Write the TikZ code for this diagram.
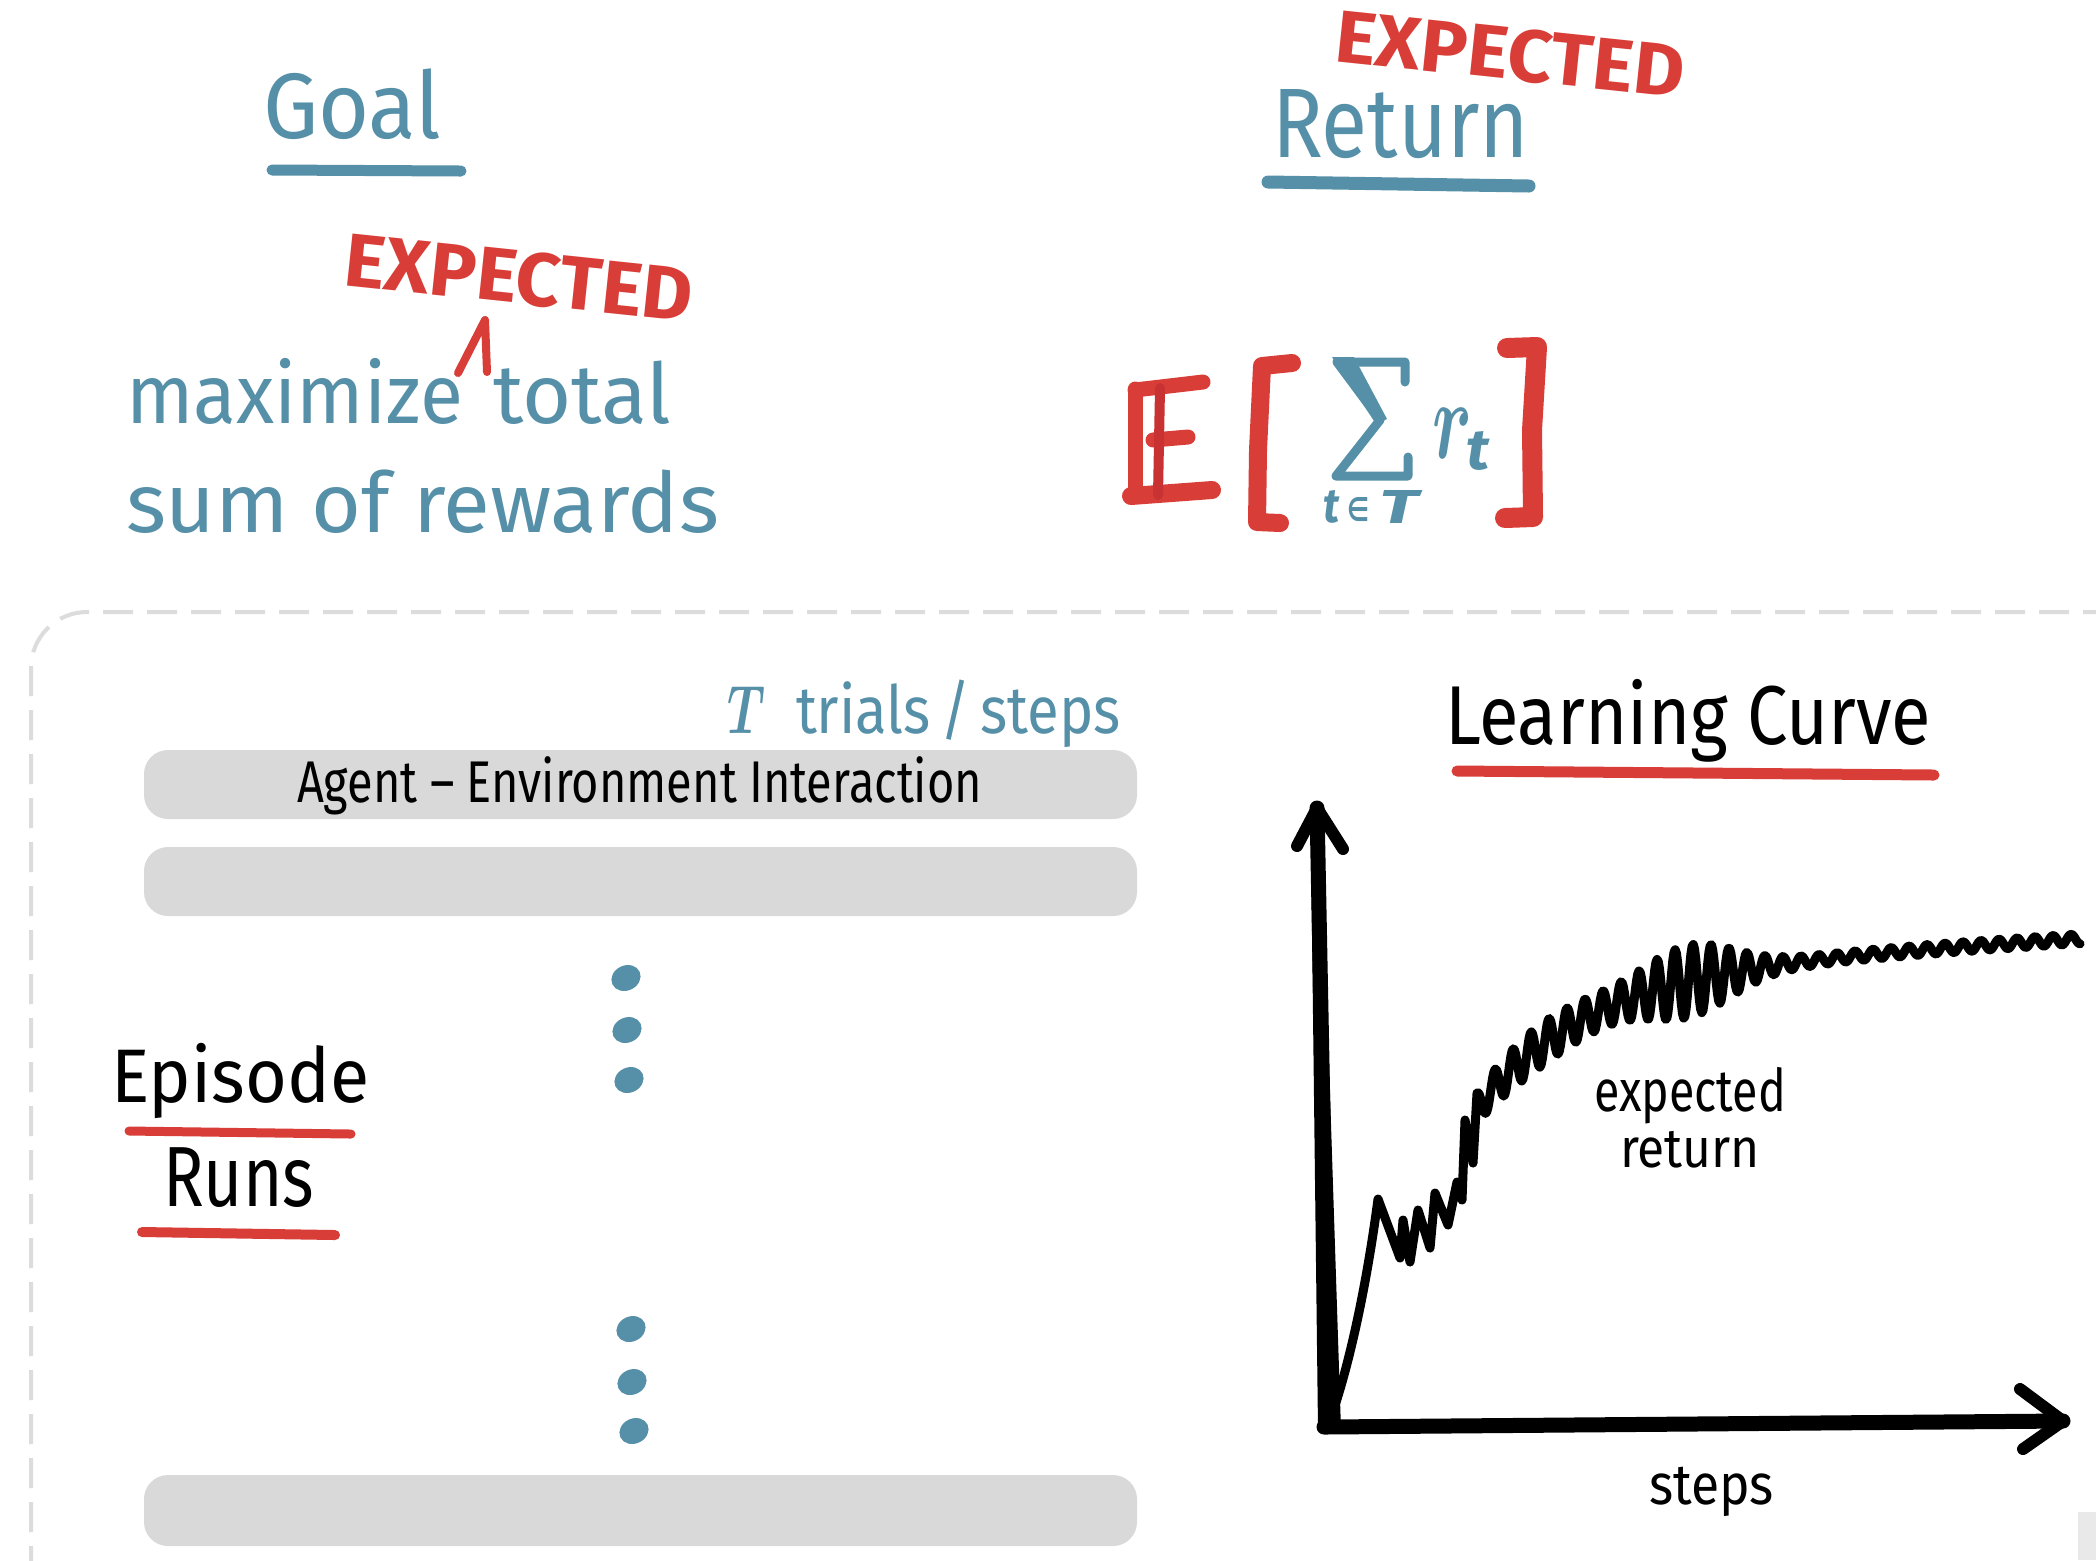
\documentclass[tikz,border=0pt]{standalone}
\usepackage{fontspec}
\setmainfont{Fira Sans}
\newfontfamily\djv{DejaVu Sans}
\usepackage{graphicx}
\usetikzlibrary{shapes.geometric}
\newlength\pxu \setlength\pxu{0.5pt}
\newcommand\fitx[3]{\resizebox{#1\pxu}{#2\pxu}{\smash{#3}\vphantom{x}}}
\newcommand\fitc[3]{\resizebox{#1\pxu}{#2\pxu}{\smash{#3}\vphantom{E}}}
\newcommand\fitb[3]{\resizebox{#1\pxu}{#2\pxu}{#3}}
\definecolor{sblue}{HTML}{5590A8}
\definecolor{sred}{HTML}{D93D37}
\definecolor{sredd}{HTML}{C93232}
\definecolor{barg}{HTML}{D9D9D9}
\definecolor{dashg}{HTML}{DCDCDC}
\definecolor{cornerg}{HTML}{E9E9E9}
\begin{document}
\begin{tikzpicture}[x=0.5pt,y=-0.5pt,
  txt/.style={inner sep=0pt, outer sep=0pt, anchor=base west},
  bar/.style={draw=none, fill=barg, rounded corners=12pt, minimum width=496.5pt, minimum height=34.5pt, inner sep=0pt},
  dot/.style={ellipse, fill=sblue, draw=none, minimum width=15pt, minimum height=12.5pt, inner sep=0pt, rotate=25},
  uline/.style={line cap=round, line width=5pt},
  redstroke/.style={draw=sred, line cap=round, line join=round, line width=7.5pt},
  bluestroke/.style={draw=sblue, line cap=round, line join=round, line width=4.5pt},
  axisline/.style={line cap=round, line join=round, line width=7.5pt},
  curveline/.style={line cap=round, line join=round, line width=4.5pt},
  frame/.style={draw=dashg, line width=2pt, dash pattern=on 15pt off 7pt, rounded corners=28pt},
  declare function={
    trend(\t)=955-0.06*(\t-1800)+130*exp(-(\t-1480)/110);
    bump(\t,\c,\w)=exp(-min(((\t-\c)/\w)*((\t-\c)/\w),9));
    amp(\t)=5+16*bump(\t,1540,90)+30*bump(\t,1690,60);
    curv(\t)=trend(\t)-amp(\t)*sin(20*(\t-1477)+90);
  }]
\useasboundingbox (0,0) rectangle (2096,1560);
\fill[white] (0,0) rectangle (2096,1560);

% ---------- top left ----------
\node[txt, text=sblue] (goal) at (263,138) {\fitx{178}{49}{Goal}};
\draw[uline, sblue, line width=5.5pt] (272,170) -- (461,171);
\node[txt, text=sred, rotate=-6] (exp1) at (342,285) {\fitc{350}{52}{\bfseries EXPECTED}};
\draw[sred, line width=4pt, line cap=round, line join=round] (458,373) -- (485,320) -- (487,372);
\node[txt, text=sblue] (maxi) at (126,423) {\fitx{337}{44}{maximize}};
\node[txt, text=sblue] (total) at (493,423) {\fitx{178}{44}{total}};
\node[txt, text=sblue] (sum) at (126,532) {\fitx{593}{44}{sum of rewards}};

% ---------- top right ----------
\node[txt, text=sred, rotate=-6] (exp2) at (1333,61) {\fitc{351}{51}{\bfseries EXPECTED}};
\node[txt, text=sblue] (ret) at (1272,157) {\fitx{257}{52}{Return}};
\draw[uline, sblue, line width=6.5pt] (1268,182) -- (1529,186);

% blackboard E
\draw[redstroke] (1135,389) -- (1135,496);
\draw[redstroke] (1135,390) -- (1203,382);
\draw[redstroke] (1153,440) -- (1188,437);
\draw[redstroke, line width=9pt] (1131,496) -- (1212,490);
\draw[redstroke, draw=sredd, line width=5pt] (1160,388) -- (1158,495);
% brackets
\draw[redstroke, line width=9pt] (1292,363) -- (1262,366) -- (1258,450) -- (1257,522) -- (1280,523);
\draw[redstroke, line width=10pt] (1507,348) -- (1537,347) -- (1532,430) -- (1533,517) -- (1505,518);
% sigma
\fill[sblue] (1332,357) -- (1354,357) -- (1387,419) -- (1376,424) -- cycle;
\draw[bluestroke] (1405,382) -- (1405,362) -- (1337,362) -- (1380,420) -- (1336,476) -- (1408,476) -- (1408,457);
\node[txt, text=sblue] (rr) at (1432,458) {\fitb{40}{50}{\boldmath$r$}};
\node[txt, text=sblue] (rt) at (1466,469) {\fitb{23}{38}{\bfseries\itshape t}};
\node[txt, text=sblue] (tt) at (1323,522) {\fitb{16}{32}{\bfseries\itshape t}};
\node[txt, text=sblue] (elem) at (1347,521) {\fitb{22}{24}{\djv\bfseries ∈}};
\node[txt, text=sblue] (TT) at (1379,523) {\fitb{39}{33}{\bfseries\itshape T}};

% ---------- lower frame ----------
\draw[frame] (31,1620) -- (31,612) -- (2140,612);
\fill[cornerg] (2078,1512) rectangle (2096,1560);

\node[bar] (bar1) at (640.5,784.5) {};
\node[bar] (bar2) at (640.5,881.5) {};
\node[bar, minimum height=35.5pt] (bar3) at (640.5,1510.5) {};
\node[txt] (aei) at (297,802) {\fitx{685}{31}{Agent – Environment Interaction}};
\node[txt, text=sblue] (bigT) at (727,733) {\fitb{38}{47}{\boldmath$T$}};
\node[txt, text=sblue] (trials) at (796,733) {\fitx{325}{35}{trials\,/\,steps}};

\node[dot] (d1) at (626,978) {};
\node[dot] (d2) at (627,1030) {};
\node[dot] (d3) at (629,1080) {};
\node[dot] (d4) at (631,1329) {};
\node[dot] (d5) at (632,1382) {};
\node[dot] (d6) at (634,1431) {};

\node[txt] (ep) at (111,1102) {\fitx{258}{40}{Episode}};
\draw[uline, sred, line width=4.5pt] (129,1131) -- (351,1134);
\node[txt] (runs) at (163,1206) {\fitx{151}{45}{Runs}};
\draw[uline, sred] (142,1232) -- (335,1235);

% ---------- learning curve ----------
\node[txt] (lc) at (1445,744) {\fitx{486}{44}{Learning Curve}};
\draw[uline, sred, line width=5.5pt] (1457,771) -- (1934,775);

\coordinate (O) at (1329,1425);
\coordinate (ytip) at (1317,808);
\coordinate (xtip) at (2063,1421);
\fill (1318,1430) -- (1311,850) -- (1322,850) -- (1341,1430) -- cycle;
\draw[axisline] (O) -- (ytip);
\draw[axisline, line width=6pt] (1297,846) -- (ytip) -- (1343,849);
\draw[axisline] (1324,1427) -- (xtip);
\draw[axisline, line width=6pt] (2020,1389) -- (xtip) -- (2023,1449);

\draw[curveline] (1330,1420) .. controls (1348,1370) and (1366,1290) .. (1378,1199)
  -- (1400,1258) -- (1403,1220) -- (1410,1262) -- (1418,1210) -- (1430,1248)
  -- (1435,1193) -- (1448,1225) -- (1457,1182) -- (1462,1200) -- (1465,1120)
  -- (1473,1163)
  -- plot[domain=1477:2080, samples=500] (\x,{curv(\x)});

\node[txt] (er1) at (1594,1111) {\fitx{192}{31}{expected}};
\node[txt] (er2) at (1620,1167) {\fitx{140}{29}{return}};
\node[txt] (steps) at (1649,1504) {\fitx{125}{30}{steps}};
\end{tikzpicture}
\end{document}
